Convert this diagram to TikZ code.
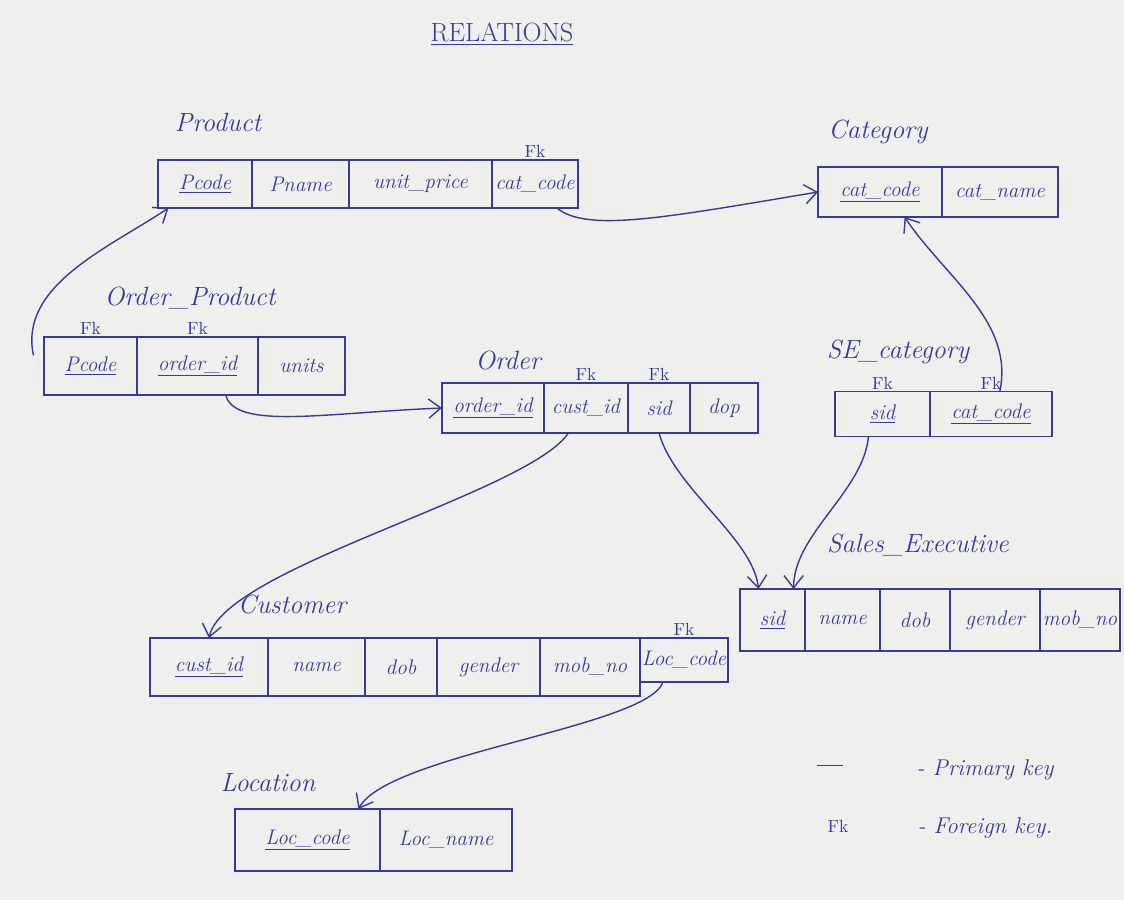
\documentclass[tikz,border=0pt]{standalone}
\usetikzlibrary{positioning,arrows.meta}
\definecolor{ink}{RGB}{58,58,150}
\definecolor{paper}{RGB}{239,239,237}
\tikzset{
  cell/.style args={#1/#2}{draw=ink, line width=0.8pt, text=ink, minimum width=#1*0.02cm,
    minimum height=#2*0.02cm, inner xsep=1pt, outer sep=0pt, font=\fontsize{12}{14}\selectfont\itshape},
  fklabel/.style={text=ink, font=\fontsize{10}{11}\selectfont, inner sep=1pt},
  tname/.style={text=ink, font=\fontsize{15}{18}\selectfont\itshape},
  legend/.style={text=ink, font=\fontsize{13}{15}\selectfont\itshape},
  link/.style={draw=ink, line width=0.8pt, -{Straight Barb[length=7pt,width=11pt]}},
}
\begin{document}
\begin{tikzpicture}[x=0.02cm, y=-0.02cm]
\fill[paper] (0,0) rectangle (1124,900);
\node[text=ink, font=\fontsize{15}{18}\selectfont] (title) at (502,34) {\underline{RELATIONS}};

% Product
\node[tname] (prod-name) at (218,122) {Product};
\node[cell={94/48}, anchor=west] (prod-pcode) at (158,184) {\underline{Pcode}};
\node[cell={97/48}, right=0pt of prod-pcode] (prod-pname) {Pname};
\node[cell={143/48}, right=0pt of prod-pname] (prod-price) {unit\_price};
\node[cell={86/48}, right=0pt of prod-price] (prod-catcode) {cat\_code};
\node[fklabel, above=0pt of prod-catcode] (fk-prod-catcode) {Fk};

% Category
\node[tname] (cat-name) at (878,132) {Category};
\node[cell={124/50}, anchor=west] (cat-catcode) at (818,192) {\underline{cat\_code}};
\node[cell={116/50}, right=0pt of cat-catcode] (cat-catname) {cat\_name};

% Order_Product
\node[tname] (op-name) at (190,298) {Order\_Product};
\node[cell={93/58}, anchor=west] (op-pcode) at (44,366) {\underline{Pcode}};
\node[cell={121/58}, right=0pt of op-pcode] (op-orderid) {\underline{order\_id}};
\node[cell={87/58}, right=0pt of op-orderid] (op-units) {units};
\node[fklabel, above=0pt of op-pcode] (fk-op-pcode) {Fk};
\node[fklabel, above=0pt of op-orderid] (fk-op-orderid) {Fk};

% Order
\node[tname] (ord-name) at (508,360) {Order};
\node[cell={102/50}, anchor=west] (ord-orderid) at (442,408) {\underline{order\_id}};
\node[cell={84/50}, right=0pt of ord-orderid] (ord-custid) {cust\_id};
\node[cell={62/50}, right=0pt of ord-custid] (ord-sid) {sid};
\node[cell={68/50}, right=0pt of ord-sid] (ord-dop) {dop};
\node[fklabel, above=0pt of ord-custid] (fk-ord-custid) {Fk};
\node[fklabel, above=0pt of ord-sid] (fk-ord-sid) {Fk};

% SE_category
\node[tname] (sec-name) at (898,352) {SE\_category};
\node[cell={95/45}, anchor=west] (sec-sid) at (835,414) {\underline{sid}};
\node[cell={122/45}, right=0pt of sec-sid] (sec-catcode) {\underline{cat\_code}};
\node[fklabel, above=0pt of sec-sid] (fk-sec-sid) {Fk};
\node[fklabel, above=0pt of sec-catcode] (fk-sec-catcode) {Fk};

% Sales_Executive
\node[tname] (se-name) at (918,545) {Sales\_Executive};
\node[cell={65/62}, anchor=west] (se-sid) at (740,620) {\underline{sid}};
\node[cell={75/62}, right=0pt of se-sid] (se-name2) {name};
\node[cell={70/62}, right=0pt of se-name2] (se-dob) {dob};
\node[cell={90/62}, right=0pt of se-dob] (se-gender) {gender};
\node[cell={80/62}, right=0pt of se-gender] (se-mobno) {mob\_no};

% Customer
\node[tname] (cust-name) at (292,604) {Customer};
\node[cell={118/58}, anchor=west] (cust-custid) at (150,667) {\underline{cust\_id}};
\node[cell={97/58}, right=0pt of cust-custid] (cust-name2) {name};
\node[cell={72/58}, right=0pt of cust-name2] (cust-dob) {dob};
\node[cell={103/58}, right=0pt of cust-dob] (cust-gender) {gender};
\node[cell={100/58}, right=0pt of cust-gender] (cust-mobno) {mob\_no};
\node[cell={88/44}, anchor=north west] (cust-loccode) at (cust-mobno.north east) {Loc\_code};
\node[fklabel, above=0pt of cust-loccode] (fk-cust-loccode) {Fk};

% Location
\node[tname] (loc-name) at (268,783) {Location};
\node[cell={145/62}, anchor=west] (loc-loccode) at (235,840) {\underline{Loc\_code}};
\node[cell={132/62}, right=0pt of loc-loccode] (loc-locname) {Loc\_name};

% legend
\node[legend] (lg-pkmark) at (830,768) {\rule[0.5ex]{1.1em}{0.9pt}};
\node[legend] (lg-pk) at (985,770) {- Primary key};
\node[fklabel] (lg-fkmark) at (838,826) {Fk};
\node[legend] (lg-fk) at (985,828) {- Foreign key.};

% links
\draw[link] ([xshift=-12pt]prod-catcode.south east) .. controls +(30,25) and +(-150,25) .. (cat-catcode.west);
\draw[link] ([xshift=-6pt,yshift=6pt]op-pcode.west) .. controls +(-15,-70) and +(-60,40) .. ([xshift=6pt]prod-pcode.south west);
\draw[link] ([xshift=16pt]op-orderid.south) .. controls +(10,35) and +(-120,5) .. (ord-orderid.west);
\draw[link] ([xshift=-10pt]ord-custid.south) .. controls +(-40,60) and +(15,-70) .. (cust-custid.north);
\draw[link] (ord-sid.south) .. controls +(15,55) and +(-5,-50) .. ([xshift=-8pt]se-sid.north);
\draw[link] ([xshift=-8pt]sec-sid.south) .. controls +(-5,55) and +(0,-55) .. ([xshift=12pt]se-sid.north);
\draw[link] ([xshift=5pt]sec-catcode.north) .. controls +(15,-70) and +(40,60) .. ([xshift=14pt]cat-catcode.south);
\draw[link] ([xshift=-12pt]cust-loccode.south) .. controls +(-15,45) and +(30,-55) .. ([xshift=29pt]loc-loccode.north);
\end{tikzpicture}
\end{document}
